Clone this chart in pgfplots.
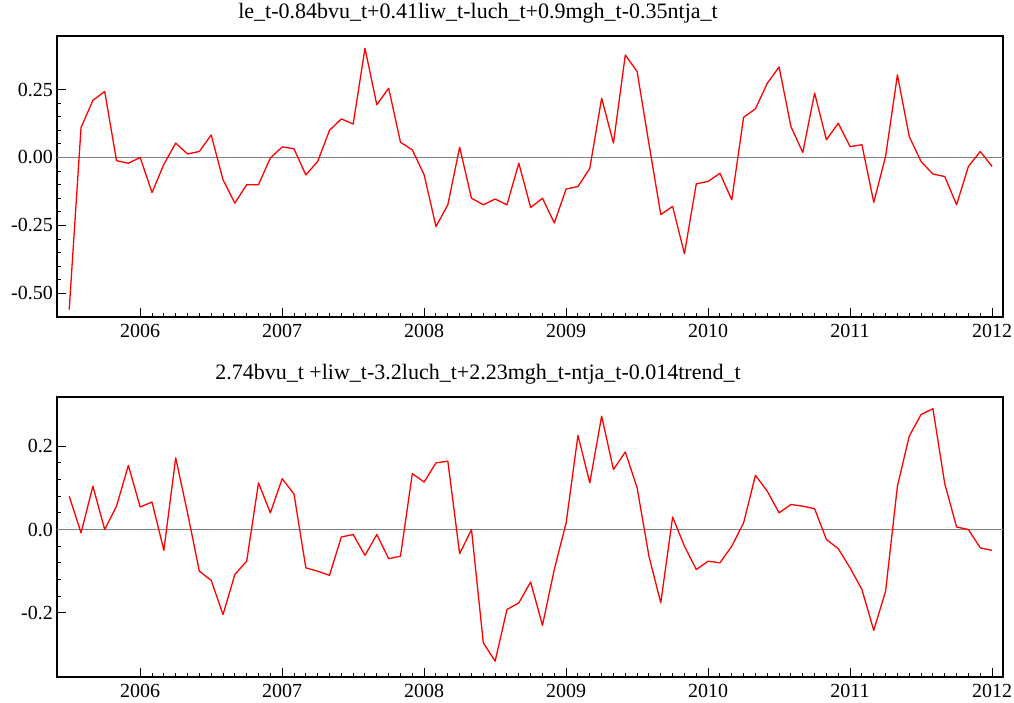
\documentclass[border=0pt]{standalone}
\usepackage{pgfplots}
\pgfplotsset{compat=1.18}
\usepackage{pgfplotstable}
\usepackage{fontspec}
\setmainfont{Liberation Serif}

\pgfplotstableread{
i y
0 -0.56
1 0.11
2 0.21
3 0.243
4 -0.012
5 -0.021
6 0.0
7 -0.129
8 -0.025
9 0.053
10 0.013
11 0.022
12 0.083
13 -0.082
14 -0.168
15 -0.10
16 -0.10
17 -0.002
18 0.039
19 0.032
20 -0.064
21 -0.015
22 0.10
23 0.142
24 0.123
25 0.402
26 0.194
27 0.255
28 0.056
29 0.028
30 -0.064
31 -0.254
32 -0.174
33 0.038
34 -0.15
35 -0.174
36 -0.153
37 -0.174
38 -0.021
39 -0.184
40 -0.15
41 -0.241
42 -0.116
43 -0.107
44 -0.04
45 0.218
46 0.053
47 0.377
48 0.316
49 0.05
50 -0.21
51 -0.18
52 -0.354
53 -0.097
54 -0.088
55 -0.058
56 -0.156
57 0.148
58 0.179
59 0.273
60 0.333
61 0.114
62 0.018
63 0.237
64 0.065
65 0.126
66 0.04
67 0.047
68 -0.165
69 0.004
70 0.304
71 0.077
72 -0.015
73 -0.061
74 -0.07
75 -0.174
76 -0.033
77 0.022
78 -0.033
}\topdata

\pgfplotstableread{
i y
0 0.08
1 -0.008
2 0.104
3 0.0
4 0.056
5 0.154
6 0.054
7 0.066
8 -0.05
9 0.172
10 0.04
11 -0.10
12 -0.122
13 -0.204
14 -0.108
15 -0.076
16 0.112
17 0.04
18 0.122
19 0.085
20 -0.092
21 -0.10
22 -0.11
23 -0.018
24 -0.012
25 -0.062
26 -0.012
27 -0.07
28 -0.064
29 0.134
30 0.114
31 0.16
32 0.164
33 -0.058
34 0.0
35 -0.272
36 -0.316
37 -0.192
38 -0.176
39 -0.126
40 -0.23
41 -0.096
42 0.016
43 0.226
44 0.112
45 0.272
46 0.144
47 0.186
48 0.10
49 -0.064
50 -0.176
51 0.03
52 -0.04
53 -0.096
54 -0.076
55 -0.08
56 -0.04
57 0.016
58 0.13
59 0.092
60 0.04
61 0.06
62 0.056
63 0.05
64 -0.024
65 -0.046
66 -0.092
67 -0.144
68 -0.242
69 -0.148
70 0.104
71 0.224
72 0.276
73 0.29
74 0.11
75 0.006
76 0.0
77 -0.044
78 -0.05
}\botdata

\pgfplotsset{
  panel/.style={
    scale only axis,
    width=946pt,
    xmin=2005.414, xmax=2012.077,
    xtick={2006,2007,2008,2009,2010,2011,2012},
    minor x tick num=11,
    minor y tick num=4,
    tick align=inside,
    xtick pos=bottom,
    ytick pos=left,
    major tick length=9pt,
    minor tick length=4pt,
    axis line style={line width=1.6pt},
    every tick/.style={line width=1.1pt, black},
    every minor tick/.style={line width=1.0pt, black},
    /pgf/number format/assume math mode=true,
    /pgf/number format/1000 sep={},
    xticklabel={\pgfmathprintnumber[assume math mode=true]{\tick}},
    yticklabel={\pgfmathprintnumber[assume math mode=true]{\tick}},
    xticklabel style={font=\rmfamily\fontsize{20}{22}\selectfont, anchor=base, yshift=-20pt},
    yticklabel style={font=\rmfamily\fontsize{20}{22}\selectfont, anchor=east, inner sep=0pt, xshift=-4pt},
    title style={font=\rmfamily\fontsize{22}{24}\selectfont, at={(0.445,1)}, anchor=base, yshift=12pt},
    clip=false,
  }
}

\begin{document}
\begin{tikzpicture}
\useasboundingbox (0pt,0pt) rectangle (1014pt,-702pt);

\begin{axis}[panel,
  at={(57pt,-36pt)}, anchor=north west,
  height=281pt,
  ymin=-0.587, ymax=0.447,
  ytick={-0.5,-0.25,0,0.25},
  yticklabel style={/pgf/number format/fixed, /pgf/number format/fixed zerofill, /pgf/number format/precision=2},
  title={le\_t-0.84bvu\_t+0.41liw\_t-luch\_t+0.9mgh\_t-0.35ntja\_t},
]
\addplot[gray, line width=1.3pt, forget plot] coordinates {(2005.414,0) (2012.077,0)};
\addplot[red, line width=1.3pt, line join=round] table[x expr=2005.5+\thisrow{i}/12, y=y] {\topdata};
\end{axis}

\begin{axis}[panel,
  at={(57pt,-397pt)}, anchor=north west,
  height=280pt,
  ymin=-0.354, ymax=0.318,
  ytick={-0.2,0,0.2},
  yticklabel style={/pgf/number format/fixed, /pgf/number format/fixed zerofill, /pgf/number format/precision=1},
  title={2.74bvu\_t +liw\_t-3.2luch\_t+2.23mgh\_t-ntja\_t-0.014trend\_t},
]
\addplot[gray, line width=1.3pt, forget plot] coordinates {(2005.414,0) (2012.077,0)};
\addplot[red, line width=1.3pt, line join=round] table[x expr=2005.5+\thisrow{i}/12, y=y] {\botdata};
\end{axis}
\end{tikzpicture}
\end{document}
